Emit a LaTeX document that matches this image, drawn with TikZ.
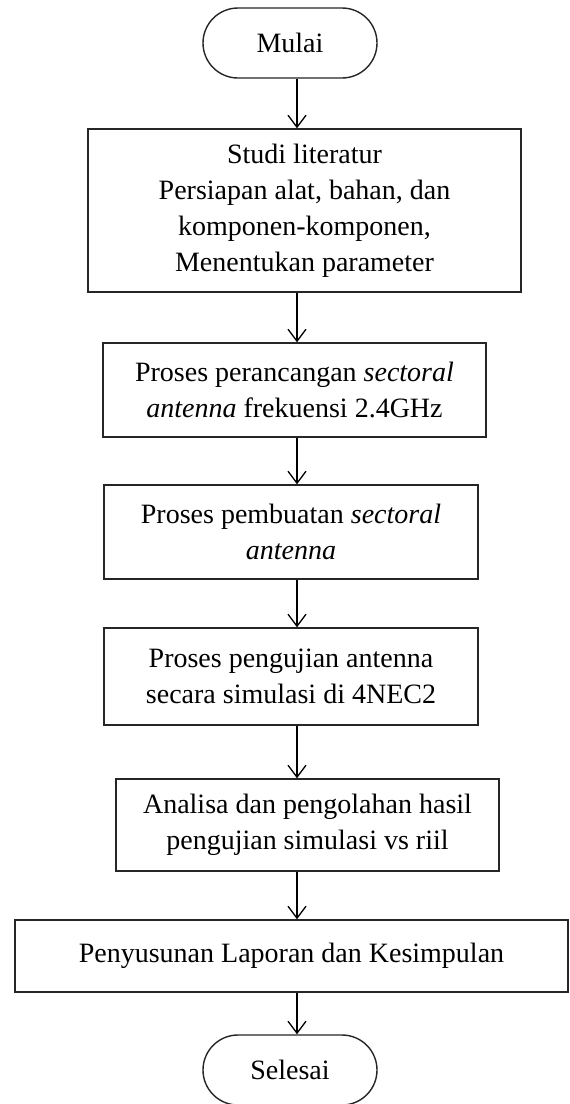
\documentclass[tikz,border=0pt]{standalone}
\usepackage{fontspec}
\setmainfont{Liberation Serif}
\usetikzlibrary{shapes.misc,arrows.meta}
\begin{document}
\begin{tikzpicture}[x=1pt,y=-1pt,
  every node/.style={font=\fontsize{28}{36}\selectfont, align=center, inner sep=0pt},
  stepbox/.style={draw=black!85, line width=1.4pt, rectangle},
  term/.style={draw=black!85, line width=1.4pt, rounded rectangle, minimum width=174pt, minimum height=70pt},
  arr/.style={draw=black, line width=1.3pt, -{Straight Barb[length=12pt,width=18pt,line width=1.3pt]}}]
\path[fill=white] (0,0) rectangle (570,1104);
\useasboundingbox (0,0) rectangle (570,1104);
\coordinate (ax) at (297,0);
\node[term] (start) at (290,43) {Mulai};
\node[stepbox, minimum width=433pt, minimum height=163pt] (b1) at (304.5,210.5)
  {Studi literatur\\Persiapan alat, bahan, dan\\komponen-komponen,\\Menentukan parameter};
\node[stepbox, minimum width=383pt, minimum height=94pt] (b2) at (294.5,390)
  {Proses perancangan \textit{sectoral}\\\textit{antenna} frekuensi 2.4GHz};
\node[stepbox, minimum width=374pt, minimum height=94pt] (b3) at (291,532)
  {Proses pembuatan \textit{sectoral}\\\textit{antenna}};
\node[stepbox, minimum width=374pt, minimum height=97pt] (b4) at (291,676.5)
  {Proses pengujian antenna\\secara simulasi di 4NEC2};
\node[stepbox, minimum width=383pt, minimum height=92pt] (b5) at (307.5,825)
  {Analisa dan pengolahan hasil\\pengujian simulasi vs riil};
\node[stepbox, minimum width=553pt, minimum height=72pt] (b6) at (291.5,956)
  {Penyusunan Laporan dan Kesimpulan};
\node[term] (end) at (290,1070) {Selesai};
\draw[arr] (start.south -| ax) -- (b1.north -| ax);
\draw[arr] (b1.south -| ax) -- (b2.north -| ax);
\draw[arr] (b2.south -| ax) -- (b3.north -| ax);
\draw[arr] (b3.south -| ax) -- (b4.north -| ax);
\draw[arr] (b4.south -| ax) -- (b5.north -| ax);
\draw[arr] (b5.south -| ax) -- (b6.north -| ax);
\draw[arr] (b6.south -| ax) -- (end.north -| ax);
\end{tikzpicture}
\end{document}
